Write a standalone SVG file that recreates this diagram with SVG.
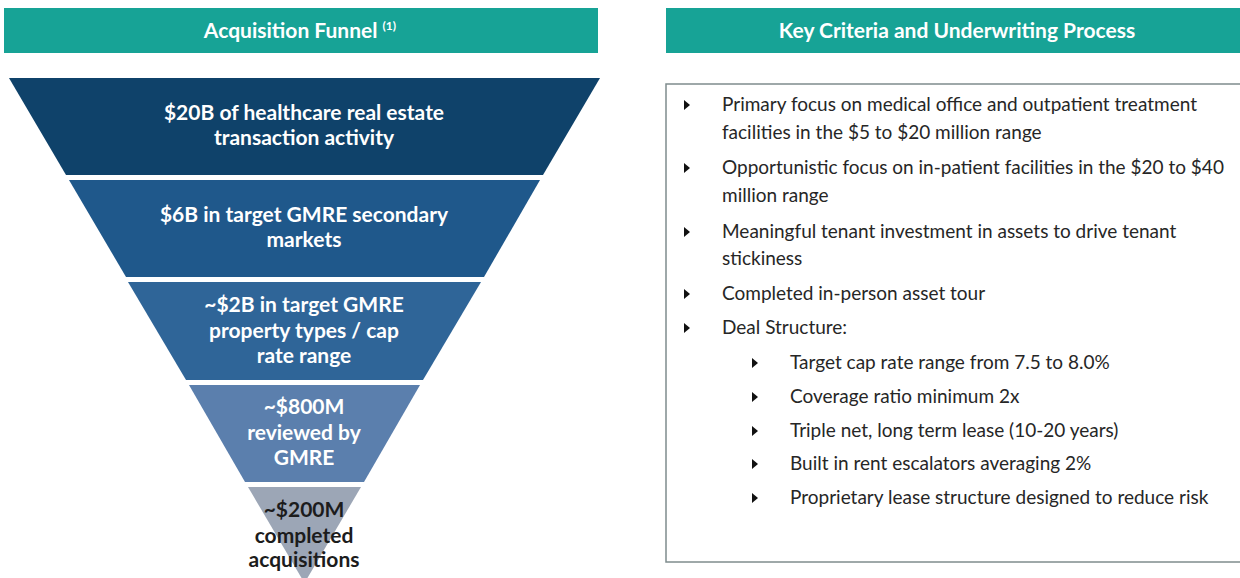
<svg xmlns="http://www.w3.org/2000/svg" width="1240" height="578" viewBox="0 0 1240 578">
  <style>
    .hdr { fill: #17a396; }
    .hdr-text { font-family: Lato, "Liberation Sans", sans-serif; font-weight: 700; font-size: 21px; fill: #ffffff; text-anchor: middle; }
    .band-text { font-family: Lato, "Liberation Sans", sans-serif; font-weight: 700; font-size: 21px; fill: #ffffff; text-anchor: middle; }
    .band-text.dark { fill: #1c1c1c; }
    .item { font-family: Lato, "Liberation Sans", sans-serif; font-size: 19px; fill: #262626; }
  </style>
  <defs>
    <path id="bullet" d="M0,-5 L6,0 L0,5 Z" fill="#111111"/>
  </defs>

  <rect width="1240" height="578" fill="#ffffff"/>

  <!-- Section headers -->
  <g id="header-funnel">
    <rect class="hdr" x="4" y="8" width="594" height="45"/>
    <text class="hdr-text" x="300" y="38">Acquisition Funnel <tspan font-size="12" dy="-8">(1)</tspan></text>
  </g>
  <g id="header-criteria">
    <rect class="hdr" x="666" y="8" width="574" height="45"/>
    <text class="hdr-text" x="957" y="38">Key Criteria and Underwriting Process</text>
  </g>

  <!-- Funnel stages, widest at the top -->
  <g id="stage-1">
    <polygon points="9,78 600,78 543,175 66,175" fill="#0f426a"/>
    <text class="band-text" x="304" y="120">$20B of healthcare real estate</text>
    <text class="band-text" x="304" y="145">transaction activity</text>
  </g>
  <g id="stage-2">
    <polygon points="69,180 540,180 484,277 126,277" fill="#1f588b"/>
    <text class="band-text" x="304" y="222">$6B in target GMRE secondary</text>
    <text class="band-text" x="304" y="247">markets</text>
  </g>
  <g id="stage-3">
    <polygon points="128,282 481,282 423,380 186,380" fill="#2f6598"/>
    <text class="band-text" x="304" y="312">~$2B in target GMRE</text>
    <text class="band-text" x="304" y="338">property types / cap</text>
    <text class="band-text" x="304" y="363">rate range</text>
  </g>
  <g id="stage-4">
    <polygon points="189,385 420,385 364,482 245,482" fill="#5b7fad"/>
    <text class="band-text" x="304" y="414">~$800M</text>
    <text class="band-text" x="304" y="440">reviewed by</text>
    <text class="band-text" x="304" y="465">GMRE</text>
  </g>
  <g id="stage-5">
    <polygon points="248,487 361,487 304.5,583" fill="#9ca6b6"/>
    <text class="band-text dark" x="304" y="517">~$200M</text>
    <text class="band-text dark" x="304" y="543">completed</text>
    <text class="band-text dark" x="304" y="567">acquisitions</text>
  </g>

  <!-- Criteria list -->
  <g id="criteria-box">
    <rect x="666" y="84" width="580" height="478" fill="#ffffff" stroke="#7f8c8d" stroke-width="1.5"/>
  </g>
  <g id="criteria-items">
    <use href="#bullet" x="684" y="105"/>
    <text class="item" x="722" y="111">Primary focus on medical office and outpatient treatment</text>
    <text class="item" x="722" y="139">facilities in the $5 to $20  million range</text>
    <use href="#bullet" x="684" y="168"/>
    <text class="item" x="722" y="174">Opportunistic focus on in-patient facilities in the $20 to $40</text>
    <text class="item" x="722" y="202">million range</text>
    <use href="#bullet" x="684" y="232"/>
    <text class="item" x="722" y="238">Meaningful tenant investment in assets to drive tenant</text>
    <text class="item" x="722" y="265">stickiness</text>
    <use href="#bullet" x="684" y="294"/>
    <text class="item" x="722" y="300">Completed in-person asset tour</text>
    <use href="#bullet" x="684" y="328"/>
    <text class="item" x="722" y="334">Deal Structure:</text>

    <use href="#bullet" x="752" y="363"/>
    <text class="item" x="790" y="369">Target cap rate range from 7.5 to 8.0%</text>
    <use href="#bullet" x="752" y="397"/>
    <text class="item" x="790" y="403">Coverage ratio minimum 2x</text>
    <use href="#bullet" x="752" y="431"/>
    <text class="item" x="790" y="437">Triple net, long term lease (10-20 years)</text>
    <use href="#bullet" x="752" y="464"/>
    <text class="item" x="790" y="470">Built in rent escalators averaging 2%</text>
    <use href="#bullet" x="752" y="498"/>
    <text class="item" x="790" y="504">Proprietary lease structure designed to reduce risk</text>
  </g>
</svg>
